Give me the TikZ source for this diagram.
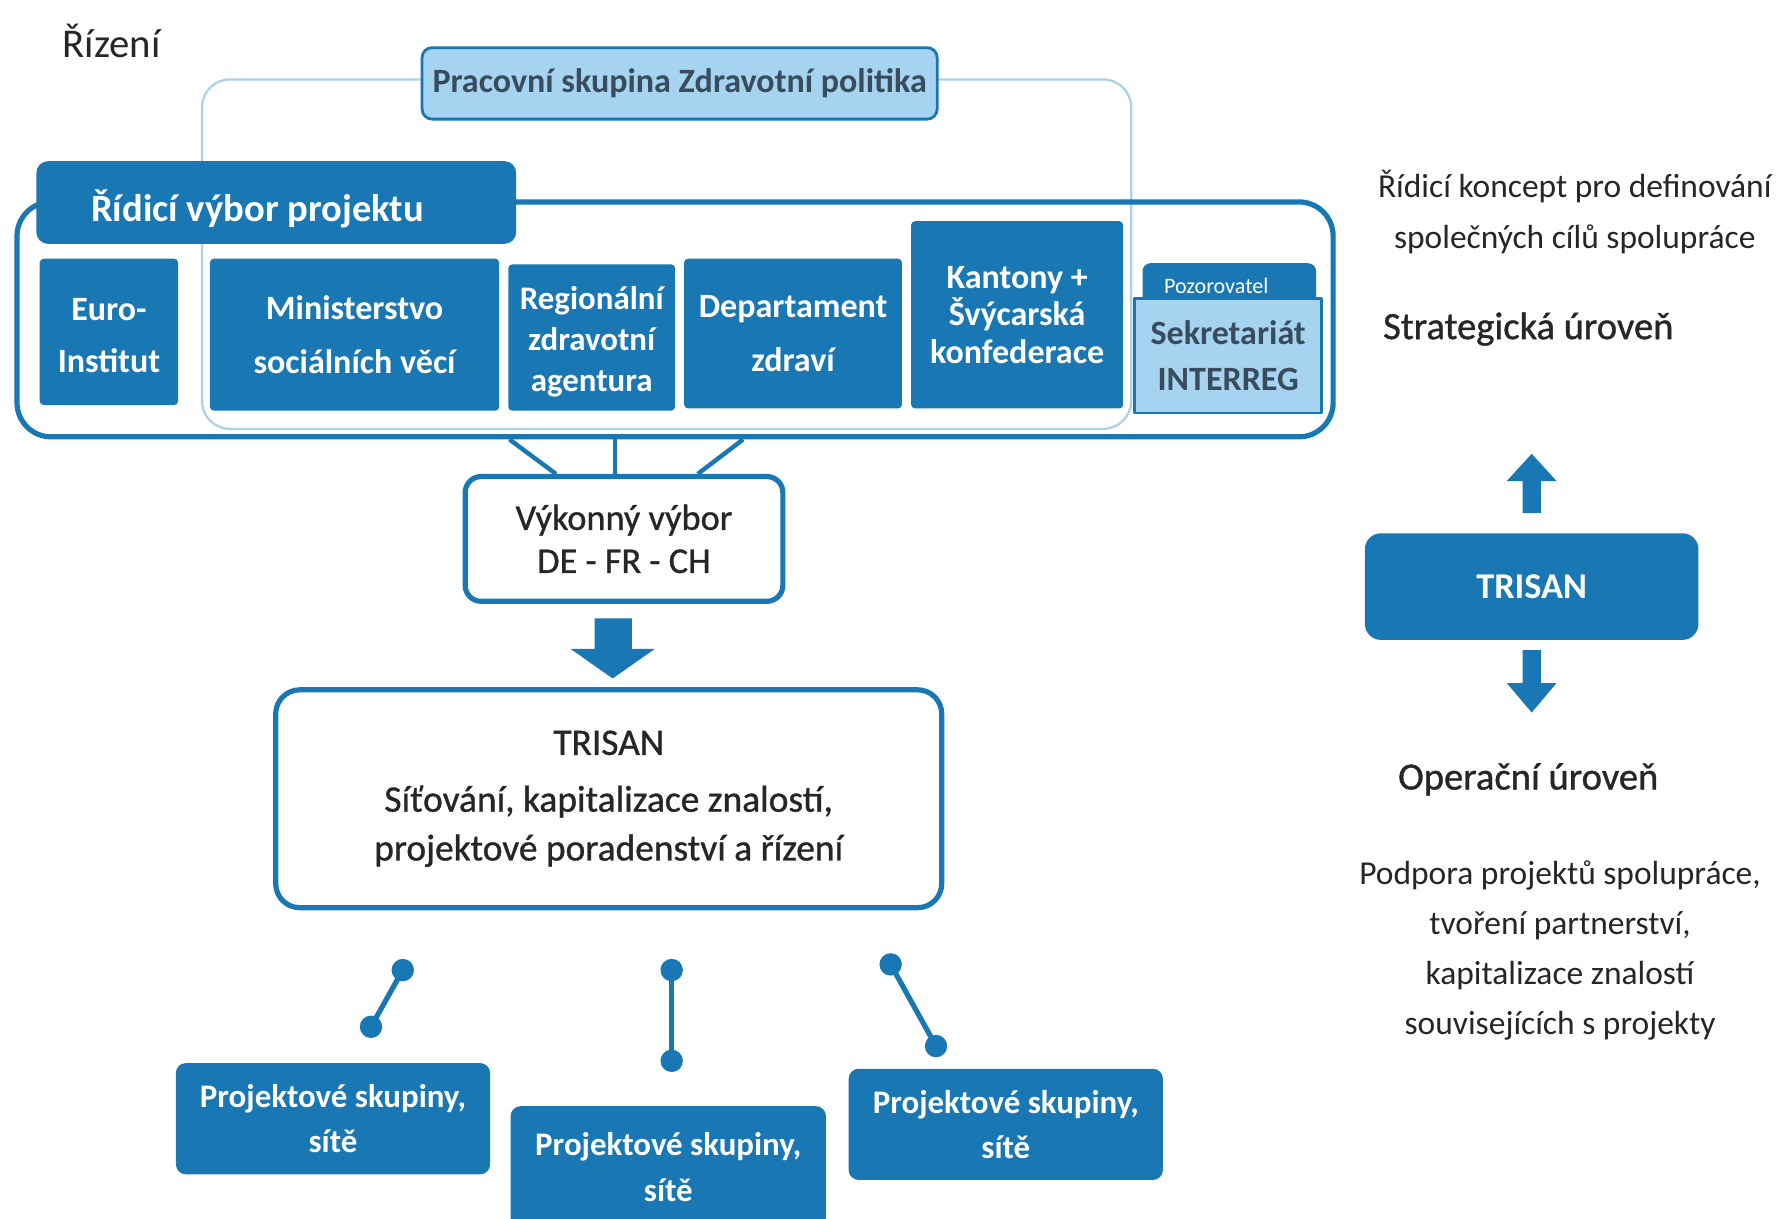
\documentclass[tikz,border=0pt]{standalone}
\usepackage{fontspec}
\setmainfont{Carlito}
\newfontface\semib{Carlito}[FakeBold=0.9]
\usetikzlibrary{calc}
\definecolor{dblue}{HTML}{1977B3}
\definecolor{lblue}{HTML}{A6D3F0}
\definecolor{pale}{HTML}{A9D2EA}
\definecolor{ink}{HTML}{262626}
\definecolor{slate}{HTML}{384C5E}
% font size and line skip given in drawing units
\newcommand{\fsz}[2]{\fontsize{\dimexpr#1pt*5673/10000\relax}{\dimexpr#2pt*5673/10000\relax}\selectfont}
% rectangular node spanning the corners (x1,y1)-(x2,y2): \bx[extra]{style}{x1}{y1}{x2}{y2}{name}{text};
\newcommand{\bx}[7][]{\node[#2, minimum width={(#5-#3)*0.5673pt}, minimum height={(#6-#4)*0.5673pt}, #1] (#7) at ({(#3+#5)/2},{(#4+#6)/2})}
\tikzset{
  darkbox/.style={fill=dblue, text=white, inner sep=0pt, align=center, rounded corners=2pt},
  lightbox/.style={fill=lblue, draw=dblue, line width=1.4pt, text=slate, inner sep=0pt, align=center},
  whitebox/.style={fill=white, draw=dblue, line width=2.6pt, text=ink, inner sep=0pt, align=center},
  frame/.style={draw=dblue, line width=2.6pt, inner sep=0pt, rounded corners=17pt},
  groupbox/.style={darkbox, rounded corners=6pt},
  conn/.style={draw=dblue, line width=2.2pt},
  dotconn/.style={draw=dblue, line width=2.6pt},
  blockarrow/.style={fill=dblue},
  plain/.style={text=ink, inner sep=0pt, align=center},
  lower/.style={text depth=0pt, execute at begin node={\vspace*{#1}}}
}
\begin{document}
\begin{tikzpicture}[x=0.5673pt, y=-0.5673pt, line join=round]
\useasboundingbox[fill=white] (0,0) rectangle (1568,1074);

% heading
\node[plain, anchor=west, font=\fsz{36}{40}] (title) at (55,36) {Řízení};

% working group frame (drawn first, behind everything)
\bx[draw=pale, line width=1.1pt, rounded corners=14pt, inner sep=0pt]{}{178}{70}{997}{378}{wgframe} {};
\bx[rounded corners=5pt, font=\fsz{30}{34}\bfseries]{lightbox}{372}{42}{826}{105}{wg} {Pracovní skupina Zdravotní politika};

% steering committee frame and its tab
\bx{frame}{15}{178}{1175}{385}{steer} {};
\bx{groupbox}{32}{142}{455}{215}{steertab} {};
\node[text=white, font=\fsz{34}{38}\bfseries, anchor=west, inner sep=0pt] (steertxt) at (80,184) {Řídicí výbor projektu};

% members
\bx[font=\fsz{30}{46}\bfseries]{darkbox}{35}{234}{157}{357}{euro} {Euro-\\Institut};
\path[fill=dblue, rounded corners=2pt] (35,228) rectangle (157,240);
\bx[font=\fsz{30}{47}\bfseries]{darkbox}{185}{228}{440}{362}{minist} {Ministerstvo\\sociálních věcí};
\bx[font=\fsz{29}{36}\bfseries]{darkbox}{448}{240}{595}{362}{ars} {Regionální\\zdravotní\\agentura};
\path[fill=dblue, rounded corners=2pt] (448,233) rectangle (595,245);
\bx[font=\fsz{30}{47}\bfseries]{darkbox}{603}{228}{795}{360}{dept} {Departament\\zdraví};
\bx[font=\fsz{30}{33}\bfseries]{darkbox}{803}{195}{990}{360}{cantons} {Kantony +\\Švýcarská\\konfederace};
\bx[rounded corners=4pt]{darkbox}{1007}{232}{1160}{272}{obstab} {};
\node[text=white, inner sep=0pt, font=\fsz{19.5}{22}] (obstxt) at (1072,252) {Pozorovatel};
\bx[font=\fsz{30}{40}\bfseries]{lightbox}{1000}{263}{1165}{364}{interreg} {Sekretariát\\INTERREG};

% executive committee
\bx[rounded corners=8pt, font=\fsz{32}{38}\semib]{whitebox}{410}{420}{690}{530}{exec} {Výkonný výbor\\DE - FR - CH};
\draw[conn] ($(steer.south)+(-146,0)$) -- ($(exec.north)+(-60,0)$);
\draw[conn] ($(steer.south)+(-53,0)$) -- ($(exec.north)+(-8,0)$);
\draw[conn] ($(steer.south)+(60,0)$) -- ($(exec.north)+(65,0)$);

% arrow to TRISAN
\fill[blockarrow] (524,545) -- (557,545) -- (557,572) -- (577,572) -- (540,598) -- (503,572) -- (524,572) -- cycle;

\bx[rounded corners=12pt, font=\fsz{33}{43}\semib]{whitebox}{243}{608}{830}{800}{trisan} {TRISAN\\[4pt]Síťování, kapitalizace znalostí,\\projektové poradenství a řízení};

% project groups
\bx[rounded corners=5pt, font=\fsz{29}{40}\bfseries]{darkbox}{155}{937}{432}{1035}{pg1} {Projektové skupiny,\\sítě};
\bx[rounded corners=5pt, font=\fsz{29}{40}\bfseries]{darkbox}{450}{975}{728}{1082}{pg2} {Projektové skupiny,\\sítě};
\bx[rounded corners=5pt, font=\fsz{29}{40}\bfseries]{darkbox}{748}{942}{1025}{1040}{pg3} {Projektové skupiny,\\sítě};

\coordinate (a1) at (355,855); \coordinate (b1) at (327,905);
\coordinate (a2) at (592,855); \coordinate (b2) at (592,935);
\coordinate (a3) at (785,850); \coordinate (b3) at (825,922);
\foreach \p/\q in {a1/b1, a2/b2, a3/b3}{
  \draw[dotconn] (\p) -- (\q);
  \fill[dblue] (\p) circle (5.6pt) (\q) circle (5.6pt);
}

% levels
\node[plain, font=\fsz{29.5}{45}] (concept) at (1388,187) {Řídicí koncept pro definování\\společných cílů spolupráce};
\node[plain, font=\fsz{34}{38}\semib] (strat) at (1347,290) {Strategická úroveň};
\fill[blockarrow] (1350,400) -- (1372,424) -- (1358,424) -- (1358,452) -- (1342,452) -- (1342,424) -- (1328,424) -- cycle;
\bx[rounded corners=8pt, font=\fsz{32}{36}\bfseries]{darkbox}{1203}{470}{1497}{564}{trisanr} {TRISAN};
\fill[blockarrow] (1342,573) -- (1358,573) -- (1358,602) -- (1372,602) -- (1350,628) -- (1328,602) -- (1342,602) -- cycle;
\node[plain, font=\fsz{34}{38}\semib] (oper) at (1347,687) {Operační úroveň};
\node[plain, font=\fsz{29.5}{44}] (support) at (1375,838) {Podpora projektů spolupráce,\\tvoření partnerství,\\kapitalizace znalostí\\souvisejících s projekty};
\end{tikzpicture}
\end{document}
